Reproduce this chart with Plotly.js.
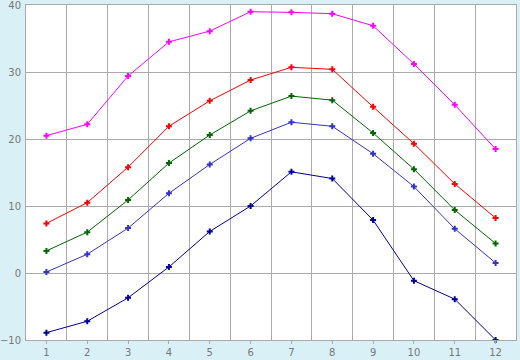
<!DOCTYPE html>
<html><head><meta charset="utf-8">
<script src="https://cdn.plot.ly/plotly-3.0.1.min.js"></script>
<style>html,body{margin:0;padding:0;background:#daf0f7;}#chart{width:520px;height:360px;}</style>
</head><body><div id="chart"></div>
<script>
const months = [1,2,3,4,5,6,7,8,9,10,11,12];
const seriesMagenta = [20.5,22.2,29.4,34.5,36.1,39.0,38.9,38.7,36.9,31.2,25.1,18.5];
const seriesRed     = [7.4,10.5,15.8,21.9,25.7,28.8,30.7,30.4,24.8,19.3,13.3,8.2];
const seriesGreen   = [3.3,6.1,10.9,16.4,20.6,24.2,26.4,25.8,20.9,15.5,9.4,4.4];
const seriesBlue    = [0.15,2.8,6.7,11.9,16.2,20.1,22.5,21.9,17.8,12.9,6.6,1.5];
const seriesNavy    = [-8.9,-7.2,-3.7,0.9,6.2,10.0,15.1,14.1,7.9,-1.15,-3.9,-10.0];
const yTicks = [-10,0,10,20,30,40];

function tr(y, color){
  return {x: months, y: y, type:'scatter', mode:'lines+markers',
    line:{color:color, width:1},
    marker:{symbol:'cross', size:5, color:color, line:{width:0}},
    showlegend:false, cliponaxis:false};
}
const data = [tr(seriesMagenta,'#ff00ff'), tr(seriesRed,'#ff0000'), tr(seriesGreen,'#006600'),
              tr(seriesBlue,'#3333cc'), tr(seriesNavy,'#000099')];
const layout = {
  width:520, height:360,
  margin:{l:26, r:4, t:5, b:20, pad:0},
  paper_bgcolor:'#daf0f7', plot_bgcolor:'#ffffff',
  font:{family:'DejaVu Sans', size:10, color:'#777777'},
  xaxis:{range:[0.5,12.5], tickvals:months, showgrid:false, zeroline:false,
    ticks:'outside', ticklen:3, tickcolor:'#aaaaaa',
    showline:true, linecolor:'#aaaaaa', linewidth:1, mirror:true,
    minor:{tick0:0.5, dtick:1, showgrid:true, gridcolor:'#aaaaaa', gridwidth:1, ticks:''},
    fixedrange:true},
  yaxis:{range:[-10.0001,40.0001], tickvals:yTicks, showgrid:true, gridcolor:'#aaaaaa', gridwidth:1,
    zeroline:false, showline:true, linecolor:'#aaaaaa', linewidth:1, mirror:true,
    ticks:'', ticklabelstandoff:2, ticklabeloverflow:'allow', fixedrange:true}
};
Plotly.newPlot('chart', data, layout, {staticPlot:true});
</script></body></html>
